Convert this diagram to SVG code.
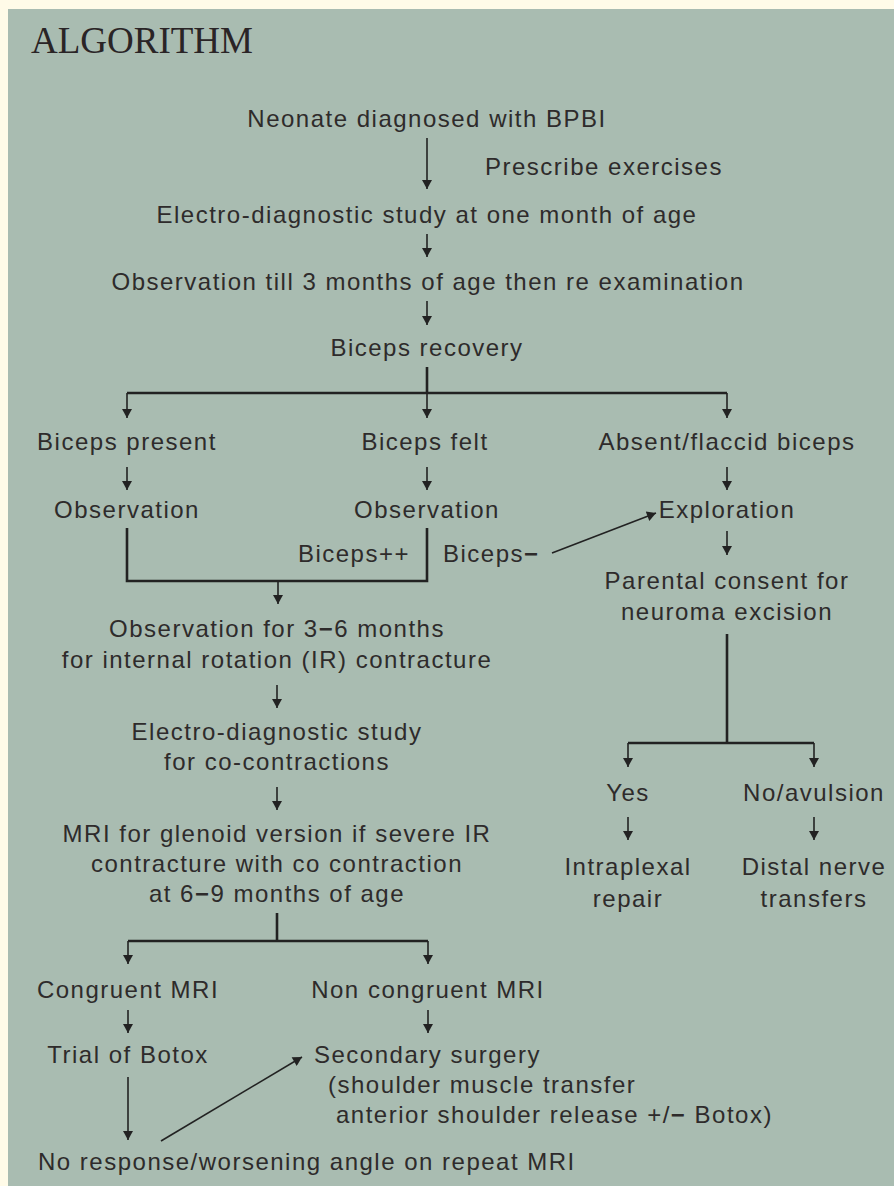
<svg xmlns="http://www.w3.org/2000/svg" width="894" height="1186" viewBox="0 0 894 1186">
  <defs>
    <marker id="ah" viewBox="0 0 10 11" refX="10" refY="5.5" markerWidth="11" markerHeight="10" markerUnits="userSpaceOnUse" orient="auto">
      <path d="M0,0 L10,5.5 L0,11 z" fill="#222"/>
    </marker>
    <style>
      text { font-family: "Liberation Sans", Arial, sans-serif; font-size: 24px; letter-spacing: 1.5px; fill: #2e2b2b; }
      .c { text-anchor: middle; }
      .title { font-family: "Liberation Serif", "Times New Roman", serif; font-size: 37px; letter-spacing: 0; fill: #2a2426; }
      .thin { stroke: #222; stroke-width: 1.6; fill: none; }
      .thick { stroke: #222; stroke-width: 2.6; fill: none; }
      .b { font-weight: bold; }
    </style>
  </defs>
  <rect x="0" y="0" width="894" height="1186" fill="#fffbe8"/>
  <rect x="8" y="9" width="886" height="1177" fill="#a9bcb1"/>

  <text id="title" class="title" x="31" y="53">ALGORITHM</text>

  <g id="connectors">
    <line class="thin" x1="427" y1="138" x2="427" y2="189" marker-end="url(#ah)"/>
    <line class="thin" x1="427" y1="234" x2="427" y2="257" marker-end="url(#ah)"/>
    <line class="thin" x1="427" y1="301" x2="427" y2="325" marker-end="url(#ah)"/>
    <polyline class="thick" points="427,367 427,393"/>
    <polyline class="thick" points="127,393 727,393"/>
    <line class="thin" x1="127" y1="393" x2="127" y2="418" marker-end="url(#ah)"/>
    <line class="thin" x1="427" y1="393" x2="427" y2="418" marker-end="url(#ah)"/>
    <line class="thin" x1="727" y1="393" x2="727" y2="418" marker-end="url(#ah)"/>
    <line class="thin" x1="127" y1="467" x2="127" y2="490" marker-end="url(#ah)"/>
    <line class="thin" x1="427" y1="467" x2="427" y2="490" marker-end="url(#ah)"/>
    <line class="thin" x1="727" y1="467" x2="727" y2="490" marker-end="url(#ah)"/>
    <polyline class="thick" points="127,528 127,581 427,581 427,528"/>
    <line class="thin" x1="278" y1="581" x2="278" y2="604" marker-end="url(#ah)"/>
    <line class="thin" x1="552" y1="553" x2="656" y2="513" marker-end="url(#ah)"/>
    <line class="thin" x1="727" y1="531" x2="727" y2="555" marker-end="url(#ah)"/>
    <polyline class="thick" points="727,634 727,743"/>
    <polyline class="thick" points="628,743 814,743"/>
    <line class="thin" x1="628" y1="743" x2="628" y2="767" marker-end="url(#ah)"/>
    <line class="thin" x1="814" y1="743" x2="814" y2="767" marker-end="url(#ah)"/>
    <line class="thin" x1="628" y1="817" x2="628" y2="840" marker-end="url(#ah)"/>
    <line class="thin" x1="814" y1="817" x2="814" y2="840" marker-end="url(#ah)"/>
    <line class="thin" x1="277" y1="685" x2="277" y2="708" marker-end="url(#ah)"/>
    <line class="thin" x1="277" y1="787" x2="277" y2="810" marker-end="url(#ah)"/>
    <polyline class="thick" points="277,913 277,941"/>
    <polyline class="thick" points="128,941 428,941"/>
    <line class="thin" x1="128" y1="941" x2="128" y2="964" marker-end="url(#ah)"/>
    <line class="thin" x1="428" y1="941" x2="428" y2="964" marker-end="url(#ah)"/>
    <line class="thin" x1="128" y1="1010" x2="128" y2="1033" marker-end="url(#ah)"/>
    <line class="thin" x1="428" y1="1010" x2="428" y2="1033" marker-end="url(#ah)"/>
    <line class="thin" x1="128" y1="1077" x2="128" y2="1140" marker-end="url(#ah)"/>
    <line class="thin" x1="161" y1="1141" x2="302" y2="1057" marker-end="url(#ah)"/>
  </g>

  <g id="n-neonate"><text class="c" x="427" y="127">Neonate diagnosed with BPBI</text></g>
  <g id="n-prescribe"><text x="485" y="175">Prescribe exercises</text></g>
  <g id="n-electro1"><text class="c" x="427" y="223">Electro-diagnostic study at one month of age</text></g>
  <g id="n-observe3"><text class="c" x="428" y="290">Observation till 3 months of age then re examination</text></g>
  <g id="n-recovery"><text class="c" x="427" y="356">Biceps recovery</text></g>
  <g id="n-present"><text class="c" x="127" y="450">Biceps present</text></g>
  <g id="n-felt"><text class="c" x="425" y="450">Biceps felt</text></g>
  <g id="n-absent"><text class="c" x="727" y="450">Absent/flaccid biceps</text></g>
  <g id="n-obs-left"><text class="c" x="127" y="518">Observation</text></g>
  <g id="n-obs-mid"><text class="c" x="427" y="518">Observation</text></g>
  <g id="n-exploration"><text class="c" x="727" y="518">Exploration</text></g>
  <g id="n-bicepspp"><text x="410" y="562" text-anchor="end">Biceps++</text></g>
  <g id="n-bicepsm"><text x="443" y="562">Biceps<tspan class="b">−</tspan></text></g>
  <g id="n-consent">
    <text class="c" x="727" y="589">Parental consent for</text>
    <text class="c" x="727" y="620">neuroma excision</text>
  </g>
  <g id="n-yes"><text class="c" x="628" y="801">Yes</text></g>
  <g id="n-no"><text class="c" x="814" y="801">No/avulsion</text></g>
  <g id="n-intraplexal">
    <text class="c" x="628" y="875">Intraplexal</text>
    <text class="c" x="628" y="907">repair</text>
  </g>
  <g id="n-distal">
    <text class="c" x="814" y="875">Distal nerve</text>
    <text class="c" x="814" y="907">transfers</text>
  </g>
  <g id="n-obs36">
    <text class="c" x="277" y="637">Observation for 3<tspan class="b">−</tspan>6 months</text>
    <text class="c" x="277" y="668">for internal rotation (IR) contracture</text>
  </g>
  <g id="n-electro2">
    <text class="c" x="277" y="740">Electro-diagnostic study</text>
    <text class="c" x="277" y="770">for co-contractions</text>
  </g>
  <g id="n-mri">
    <text class="c" x="277" y="842">MRI for glenoid version if severe IR</text>
    <text class="c" x="277" y="872">contracture with co contraction</text>
    <text class="c" x="277" y="902">at 6<tspan class="b">−</tspan>9 months of age</text>
  </g>
  <g id="n-congruent"><text class="c" x="128" y="998">Congruent MRI</text></g>
  <g id="n-noncongruent"><text class="c" x="428" y="998">Non congruent MRI</text></g>
  <g id="n-botox"><text class="c" x="128" y="1063">Trial of Botox</text></g>
  <g id="n-secondary">
    <text x="314" y="1063">Secondary surgery</text>
    <text x="328" y="1093">(shoulder muscle transfer</text>
    <text x="336" y="1123">anterior shoulder release +/<tspan class="b">−</tspan> Botox)</text>
  </g>
  <g id="n-noresponse"><text x="38" y="1170">No response/worsening angle on repeat MRI</text></g>
</svg>
